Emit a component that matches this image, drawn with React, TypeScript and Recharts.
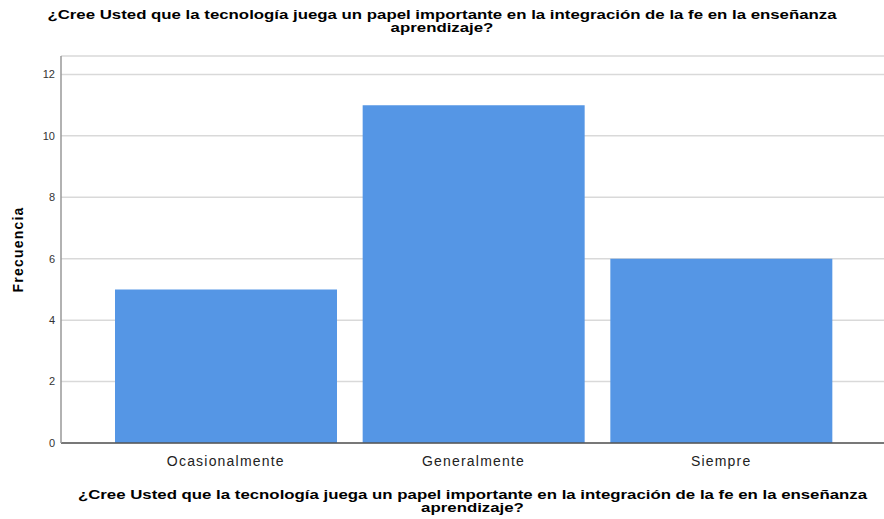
import { BarChart, Bar, XAxis, YAxis, CartesianGrid, Label } from 'recharts';

const categories = ['Ocasionalmente', 'Generalmente', 'Siempre'];
const frecuencias = [5, 11, 6];
const yTicks = [0, 2, 4, 6, 8, 10, 12];

const titulo1 = '¿Cree Usted que la tecnología juega un papel importante en la integración de la fe en la enseñanza';
const titulo2 = 'aprendizaje?';

const data = categories.map((c, i) => ({ categoria: c, frecuencia: frecuencias[i] }));

const font = 'Arial, "Liberation Sans", sans-serif';

// estilo común de los dos títulos (SPSS los dibuja anchos y muy juntos)
const tituloStyle = {
    position: 'absolute' as const,
    textAlign: 'center' as const,
    fontSize: 13.5,
    fontWeight: 'bold' as const,
    lineHeight: '13px',
    color: '#000',
    whiteSpace: 'nowrap' as const,
    transform: 'scaleX(1.245)',
    transformOrigin: 'center',
};

const App = () => {
    return (
        <div style={{ position: 'absolute', left: 0, top: 0, width: 884, height: 519, background: '#fff', fontFamily: font }}>
            {/* título superior */}
            <div style={{ ...tituloStyle, left: 0, top: 8, width: 884 }}>
                {titulo1}<br />{titulo2}
            </div>
            <BarChart
                width={884}
                height={519}
                data={data}
                margin={{ top: 56, right: 0, left: 0, bottom: 46 }}
                barCategoryGap={13}
            >
                <CartesianGrid vertical={false} stroke="#d9d9d9" strokeWidth={1.5} />
                <XAxis
                    dataKey="categoria"
                    height={30}
                    padding={{ left: 41, right: 39 }}
                    tickLine={false}
                    tickSize={0}
                    tickMargin={13}
                    axisLine={{ stroke: '#555', strokeWidth: 1.5 }}
                    tick={{ fill: '#222', fontSize: 14, fontFamily: font, letterSpacing: 1.2 }}
                />
                <YAxis
                    width={61}
                    domain={[0, 12.6]}
                    ticks={yTicks}
                    tickLine={false}
                    tickSize={3}
                    tickMargin={3}
                    axisLine={{ stroke: '#999', strokeWidth: 1.5 }}
                    tick={{ fill: '#333', fontSize: 11, fontFamily: font }}
                >
                    <Label
                        value="Frecuencia"
                        angle={-90}
                        position="insideLeft"
                        offset={18}
                        style={{ fill: '#000', fontSize: 14, fontWeight: 'bold', fontFamily: font, letterSpacing: 1.2, textAnchor: 'middle' }}
                    />
                </YAxis>
                <Bar dataKey="frecuencia" fill="#5596e5" isAnimationActive={false} />
            </BarChart>
            {/* título del eje X */}
            <div style={{ ...tituloStyle, left: 61, top: 488, width: 823 }}>
                {titulo1}<br />{titulo2}
            </div>
        </div>
    );
};

export default App;
